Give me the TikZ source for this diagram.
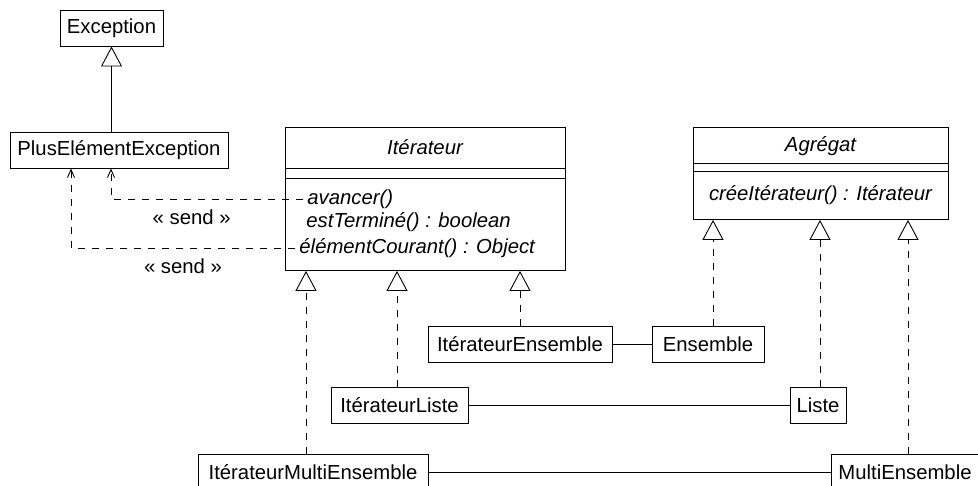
\documentclass[tikz,border=0pt]{standalone}
\usepackage{fontspec}
\setmainfont{Liberation Sans}
\usetikzlibrary{arrows.meta}

\begin{document}
\begin{tikzpicture}[x=0.5pt,y=-0.5pt,line width=0.45pt,
    font=\fontsize{10.15}{12}\selectfont,
    classe/.style={draw,minimum height=18pt,inner xsep=3pt},
    herite/.style={-{Triangle[open,length=10pt,width=10.5pt]}},
    realise/.style={herite,dash pattern=on 3.5pt off 3.5pt},
    envoie/.style={-{Straight Barb[length=4pt,width=3.5pt]},dash pattern=on 3.5pt off 3.5pt},
    methode/.style={anchor=west,inner xsep=2pt,font=\fontsize{10.15}{12}\selectfont\itshape}]
      \useasboundingbox (0,0) rectangle (978,486);
      \clip (0,0) rectangle (978,486);

      % exceptions
      \node[classe,minimum width=51.5pt] (exc) at (111.5,28) {Exception};
      \node[classe,minimum width=109pt] (plusEl) at (119,150) {PlusElémentException};
      \draw[herite] (plusEl.north -| exc.south) -- (exc.south);

      % interface Itérateur
      \node[draw,anchor=north west,minimum width=140pt,minimum height=71.5pt,inner sep=0] (iter) at (285,127) {};
      \draw (iter.north west) ++(0,41) -- ++(280,0) ++(-280,10) -- ++(280,0);
      \node[font=\fontsize{10.15}{12}\selectfont\itshape] (iterNom) at (425,147.5) {Itérateur};
      \node[methode] (avancer) at (303,199) {avancer()};
      \node[methode] (estTermine) at (302,222) {estTerminé() : boolean};
      \node[methode] (elemCourant) at (295,248) {élémentCourant() : Object};

      % interface Agrégat
      \node[draw,anchor=north west,minimum width=127.5pt,minimum height=46pt,inner sep=0] (agr) at (693,127) {};
      \draw (agr.north west) ++(0,36) -- ++(255,0) ++(-255,8) -- ++(255,0);
      \node[font=\fontsize{10.15}{12}\selectfont\itshape] (agrNom) at (820.5,146) {Agrégat};
      \node[methode,anchor=center] (creeIter) at (820.5,195) {créeItérateur() : Itérateur};

      % classes concretes
      \node[classe,minimum width=92pt] (itEns) at (520,344.5) {ItérateurEnsemble};
      \node[classe,minimum width=56pt] (ens) at (708,344.5) {Ensemble};
      \node[classe,minimum width=68.5pt] (itListe) at (399.5,405) {ItérateurListe};
      \node[classe,minimum width=28pt] (liste) at (818,405) {Liste};
      \node[classe,minimum width=115pt] (itMulti) at (313,472) {ItérateurMultiEnsemble};
      \node[classe,minimum width=74pt] (multi) at (905,472) {MultiEnsemble};

      \draw (itEns) -- (ens);
      \draw (itListe) -- (liste);
      \draw (itMulti) -- (multi);

      \draw[realise] (itEns.north) -- (itEns.north |- iter.south);
      \draw[realise] ([xshift=-1.25pt]itListe.north) -- ([xshift=-1.25pt]itListe.north |- iter.south);
      \draw[realise] ([xshift=-3.5pt]itMulti.north) -- ([xshift=-3.5pt]itMulti.north |- iter.south);
      \draw[realise] ([xshift=2.5pt]ens.north) -- ([xshift=2.5pt]ens.north |- agr.south);
      \draw[realise] ([xshift=1pt]liste.north) -- ([xshift=1pt]liste.north |- agr.south);
      \draw[realise] ([xshift=1.5pt]multi.north) -- ([xshift=1.5pt]multi.north |- agr.south);

      % dependances send
      \draw[envoie] (avancer.west) -| node[below=2pt,pos=0.29]{« send »} ([xshift=-4pt]plusEl.south);
      \draw[envoie] (elemCourant.west) -| node[below=2pt,pos=0.25]{« send »} ([xshift=-24pt]plusEl.south);
    \end{tikzpicture}
\end{document}
